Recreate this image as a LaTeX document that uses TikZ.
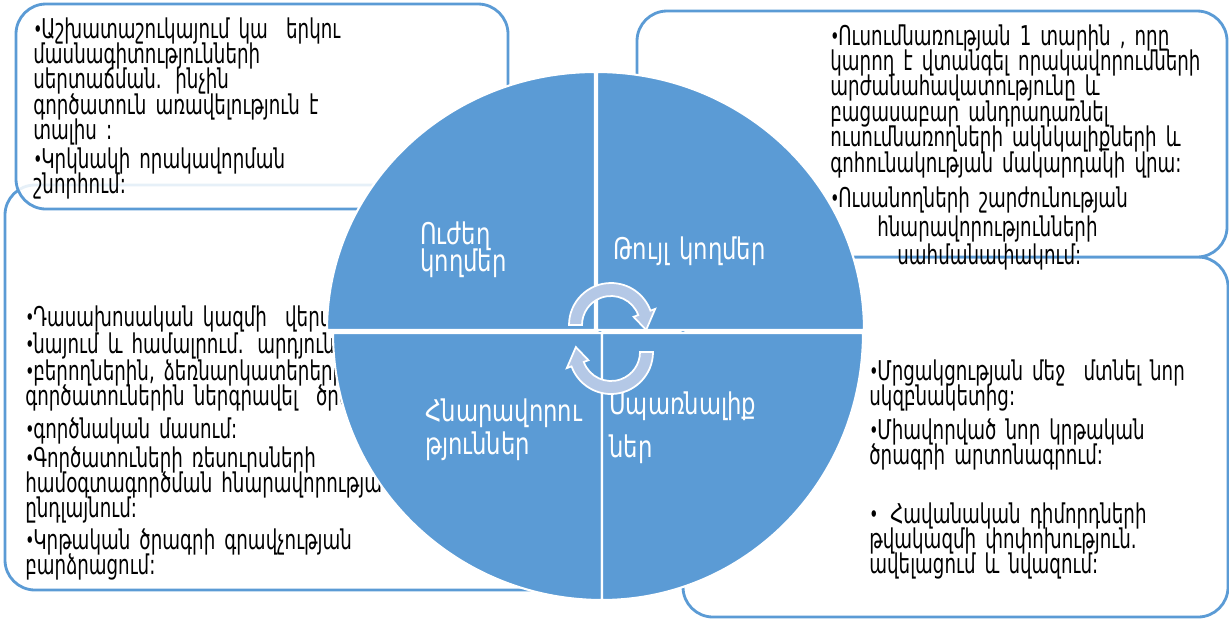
\documentclass[tikz,border=0pt]{standalone}
\usepackage{fontspec}
\newfontfamily\armfont[FakeStretch=0.67]{DejaVu Sans}
\newfontfamily\labfont[FakeStretch=0.76]{DejaVu Sans}
\definecolor{accblue}{HTML}{5B9BD5}
\definecolor{arrowblue}{HTML}{B4C8E6}
% bullet with a hanging indent
\newcommand{\blt}{\hangindent=0.16cm\hangafter=1\noindent\makebox[0.16cm][l]{\raisebox{0.2pt}{\fontsize{13}{13}\selectfont •}}}
% fonts of the box texts and of the quarter labels, with a tight line spacing
\newcommand{\boxfont}[1]{\armfont\fontsize{15.5}{#1}\selectfont\lineskiplimit=-20pt\relax}
\newcommand{\quadfont}[1]{\labfont\fontsize{17}{#1}\selectfont\lineskiplimit=-20pt\relax}
\begin{document}
\begin{tikzpicture}[x=0.02cm, y=0.02cm]
    % Define styles for shapes
    \tikzstyle{box} = [draw=accblue, line width=1.6pt, rounded corners=0.6cm, fill=white]
    \tikzstyle{boxtext} = [anchor=base west, inner sep=0pt, text width=12cm, align=left, font=\boxfont{14.5pt}]
    \tikzstyle{quad} = [fill=accblue, draw=white, line width=1.2pt]
    \tikzstyle{quadtext} = [anchor=base west, inner sep=0pt, text width=5cm, align=left, text=white]
    \tikzstyle{cyclearrow} = [fill=arrowblue, draw=white, line width=1pt]

    \useasboundingbox (0,0) rectangle (1229,-620);

    % Draw the four text boxes
    \draw[box] (5,-185) rectangle (600,-590);
    \draw[box, fill opacity=0.85] (16,-4) rectangle (508,-209);
    \draw[box] (683,-257) rectangle (1228,-617);
    \draw[box] (637,-11) rectangle (1227,-257);

    % Texts in the boxes
    \node[boxtext] (tlA) at (33,-38) {\blt Աշխատաշուկայում կա~ երկու\\ մասնագիտությունների\\ սերտաճման. ինչին\\ գործատուն առավելություն է\\ տալիս :};
    \node[boxtext] (tlB) at (33,-168) {\blt Կրկնակի որակավորման\\ շնորհում:};

    \node[boxtext] (trA) at (830,-45) {\blt Ուսումնառության 1 տարին , որը\\ կարող է վտանգել որակավորումների\\ արժանահավատությունը և\\ բացասաբար անդրադառնել\\ ուսումնառողների ակնկալիքների և\\ գոհունակության մակարդակի վրա:};
    \node[boxtext, font=\boxfont{16.5pt}] (trB) at (830,-207) {\blt Ուսանողների շարժունության\\ \hspace*{0.94cm}հնարավորությունների\\ \hspace*{1.34cm}սահմանափակում:};

    \node[boxtext] (lA) at (25,-326) {\blt Դասախոսական կազմի~ վերա};
    \node[boxtext] (lB) at (25,-353) {\blt նայում և համալրում. արդյունա};
    \node[boxtext] (lC) at (25,-380) {\blt բերողներին, ձեռնարկատերերին,\\ գործատուներին ներգրավել~ ծրագրի};
    \node[boxtext] (lD) at (25,-438) {\blt գործնական մասում:};
    \node[boxtext] (lE) at (25,-467) {\blt Գործատուների ռեսուրսների\\ համօգտագործման հնարավորության\\ ընդլայնում:};
    \node[boxtext] (lF) at (25,-549) {\blt Կրթական ծրագրի գրավչության\\ բարձրացում:};

    \node[boxtext] (brA) at (869,-380) {\blt Մրցակցության մեջ~ մտնել նոր\\ սկզբնակետից:};
    \node[boxtext] (brB) at (869,-439) {\blt Միավորված նոր կրթական\\ ծրագրի արտոնագրում:};
    \node[boxtext] (brC) at (869,-523) {\blt \hspace*{0.26cm}Հավանական դիմորդների\\ թվակազմի փոփոխություն.\\ ավելացում և նվազում:};

    % Draw the four quarters of the circle
    \filldraw[quad] (595,-330) -- (327,-330) arc[start angle=180, end angle=90, x radius=268, y radius=258] -- cycle;
    \filldraw[quad] (597,-330) -- (597,-72) arc[start angle=90, end angle=0, x radius=267, y radius=258] -- cycle;
    \filldraw[quad] (602,-333) -- (602,-600) arc[start angle=270, end angle=180, x radius=269, y radius=267] -- cycle;
    \filldraw[quad] (602,-333) -- (863,-333) arc[start angle=0, end angle=-90, x radius=261, y radius=267] -- cycle;

    % Labels of the quarters
    \node[quadtext, font=\quadfont{15.9pt}] (strong) at (420,-244) {Ուժեղ\\ կողմեր};
    \node[quadtext, font=\quadfont{15.9pt}] (weak) at (613,-259) {Թույլ կողմեր};
    \node[quadtext, font=\quadfont{19.3pt}] (opport) at (425,-421) {Հնարավորու\\ թյուններ};
    \node[quadtext, font=\quadfont{25pt}] (threat) at (609,-414) {Սպառնալիք\\ ներ};

    % Draw the two cycle arrows in the centre
    \begin{scope}[shift={(611,-325)}]
        \filldraw[cyclearrow] (180:42) arc[start angle=180, end angle=20, radius=42] -- (20:47) -- (-8:35.5) -- (20:24) -- (20:29) arc[start angle=20, end angle=180, radius=29] -- cycle;
    \end{scope}
    \begin{scope}[shift={(611,-352)}]
        \filldraw[cyclearrow] (0:42) arc[start angle=0, end angle=-160, radius=42] -- (-160:47) -- (-188:35.5) -- (-160:24) -- (-160:29) arc[start angle=-160, end angle=0, radius=29] -- cycle;
    \end{scope}
\end{tikzpicture}
\end{document}
